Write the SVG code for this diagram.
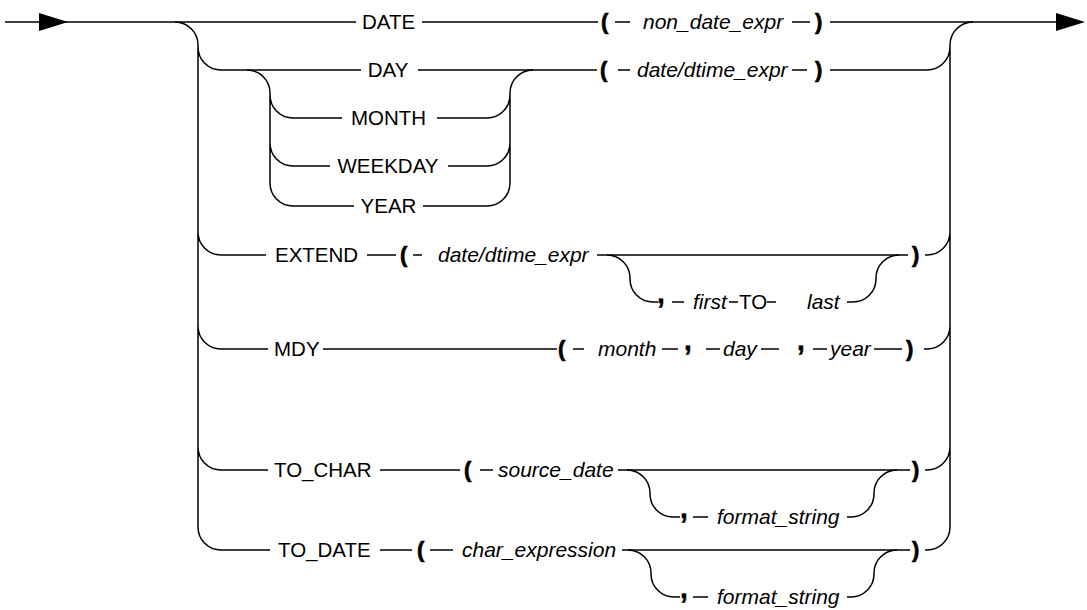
<svg xmlns="http://www.w3.org/2000/svg" width="1087" height="610" viewBox="0 0 1087 610">
  <style>
    .ln { fill: none; stroke: #000; stroke-width: 1.5; }
    .kw { font-family: "Liberation Sans", Arial, sans-serif; font-size: 20.5px; fill: #000; }
    .it { font-family: "Liberation Sans", Arial, sans-serif; font-size: 21px; font-style: italic; fill: #000; }
    .p  { font-family: "Liberation Sans", Arial, sans-serif; font-size: 22px; font-weight: bold; fill: #000; stroke: #000; stroke-width: 0.7; }
    .c  { font-family: "Liberation Sans", Arial, sans-serif; font-size: 28px; font-weight: bold; fill: #000; stroke: #000; stroke-width: 0.5; }
    .mid { text-anchor: middle; }
    .arrow { fill: #000; stroke: none; }
  </style>
  <rect width="1087" height="610" fill="#fff"/>

  <g id="connectors">
    <!-- main line across the top (DATE row) -->
    <path class="ln" d="M5 22H356 M422 22H598 M615 22H630 M792 22H810 M830 22H1062"/>
    <polygon class="arrow" points="39,13 68,22 39,31"/>
    <polygon class="arrow" points="1056,13 1085,22 1056,31"/>

    <!-- outer left rail -->
    <path class="ln" d="M175 22A23 23 0 0 1 198 45V527A23 23 0 0 0 221 550
      M198 47A23 23 0 0 0 221 70
      M198 232A23 23 0 0 0 221 255
      M198 326A23 23 0 0 0 221 349
      M198 447A23 23 0 0 0 221 470"/>
    <!-- outer right rail -->
    <path class="ln" d="M927 550A23 23 0 0 0 950 527V45A23 23 0 0 1 973 22
      M927 70A23 23 0 0 0 950 47
      M927 255A23 23 0 0 0 950 232
      M927 349A23 23 0 0 0 950 326
      M927 470A23 23 0 0 0 950 447"/>

    <!-- DAY row -->
    <path class="ln" d="M221 70H361 M418 70H597 M618 70H630 M792 70H807 M830 70H927"/>
    <!-- DAY / MONTH / WEEKDAY / YEAR choice -->
    <path class="ln" d="M247 70A23 23 0 0 1 270 93V183A23 23 0 0 0 293 206H354
      M423 206H487A23 23 0 0 0 510 183V93A23 23 0 0 1 533 70
      M270 95A23 23 0 0 0 293 118H342 M437 118H487A23 23 0 0 0 510 95
      M270 143A23 23 0 0 0 293 166H330 M448 166H487A23 23 0 0 0 510 143"/>

    <!-- EXTEND row -->
    <path class="ln" d="M221 255H266 M367 255H396 M413 255H422 M597 255H908 M925 255H927"/>
    <path class="ln" d="M607 255A23 23 0 0 1 630 278V279A23 23 0 0 0 653 302H658
      M672 302H684 M729 302H738 M767 302H776
      M847 302H853A23 23 0 0 0 876 279V278A23 23 0 0 1 899 255"/>

    <!-- MDY row -->
    <path class="ln" d="M221 349H268 M323 349H557 M573 349H584 M662 349H678 M706 349H720
      M761 349H779 M813 349H827 M874 349H902 M924 349H927"/>

    <!-- TO_CHAR row -->
    <path class="ln" d="M221 470H268 M380 470H460 M480 470H493 M618 470H910 M925 470H927"/>
    <path class="ln" d="M627 470A23 23 0 0 1 650 493V494A23 23 0 0 0 673 517H680
      M693 517H708
      M847 517H851A23 23 0 0 0 874 494V493A23 23 0 0 1 897 470"/>

    <!-- TO_DATE row -->
    <path class="ln" d="M221 550H270 M380 550H412 M430 550H453 M622 550H910 M925 550H927"/>
    <path class="ln" d="M628 550A23 23 0 0 1 651 573V574A23 23 0 0 0 674 597H680
      M693 597H708
      M847 597H851A23 23 0 0 0 874 574V573A23 23 0 0 1 897 550"/>
  </g>

  <!-- DATE ( non_date_expr ) -->
  <g id="kw-date"><text class="kw mid" x="388.5" y="29">DATE</text></g>
  <g id="date-open"><text class="p" x="601" y="29">(</text></g>
  <g id="non-date-expr"><text class="it" x="643" y="29">non_date_expr</text></g>
  <g id="date-close"><text class="p" x="815" y="29">)</text></g>

  <!-- DAY | MONTH | WEEKDAY | YEAR ( date/dtime_expr ) -->
  <g id="kw-day"><text class="kw mid" x="388" y="77">DAY</text></g>
  <g id="kw-month"><text class="kw mid" x="388.5" y="125">MONTH</text></g>
  <g id="kw-weekday"><text class="kw mid" x="388" y="173">WEEKDAY</text></g>
  <g id="kw-year"><text class="kw mid" x="388.5" y="213">YEAR</text></g>
  <g id="day-open"><text class="p" x="600" y="77">(</text></g>
  <g id="day-expr"><text class="it" x="637" y="77">date/dtime_expr</text></g>
  <g id="day-close"><text class="p" x="815" y="77">)</text></g>

  <!-- EXTEND ( date/dtime_expr [, first TO last] ) -->
  <g id="kw-extend"><text class="kw" x="275" y="262">EXTEND</text></g>
  <g id="extend-open"><text class="p" x="400" y="262">(</text></g>
  <g id="extend-expr"><text class="it" x="438" y="262">date/dtime_expr</text></g>
  <g id="extend-comma"><text class="c" x="657" y="303">,</text></g>
  <g id="extend-first"><text class="it" x="693" y="309">first</text></g>
  <g id="kw-to"><text class="kw" x="739" y="309">TO</text></g>
  <g id="extend-last"><text class="it" x="807" y="309">last</text></g>
  <g id="extend-close"><text class="p" x="912" y="262">)</text></g>

  <!-- MDY ( month , day , year ) -->
  <g id="kw-mdy"><text class="kw" x="274" y="356">MDY</text></g>
  <g id="mdy-open"><text class="p" x="558" y="356">(</text></g>
  <g id="mdy-month"><text class="it" x="598" y="356">month</text></g>
  <g id="mdy-comma1"><text class="c" x="684" y="350">,</text></g>
  <g id="mdy-day"><text class="it" x="723" y="356">day</text></g>
  <g id="mdy-comma2"><text class="c" x="797" y="350">,</text></g>
  <g id="mdy-year"><text class="it" x="830" y="356">year</text></g>
  <g id="mdy-close"><text class="p" x="906" y="356">)</text></g>

  <!-- TO_CHAR ( source_date [, format_string] ) -->
  <g id="kw-to-char"><text class="kw" x="274" y="477">TO_CHAR</text></g>
  <g id="to-char-open"><text class="p" x="464" y="477">(</text></g>
  <g id="to-char-source"><text class="it" x="498" y="477">source_date</text></g>
  <g id="to-char-comma"><text class="c" x="680" y="518">,</text></g>
  <g id="to-char-format"><text class="it" x="717" y="524">format_string</text></g>
  <g id="to-char-close"><text class="p" x="912" y="477">)</text></g>

  <!-- TO_DATE ( char_expression [, format_string] ) -->
  <g id="kw-to-date"><text class="kw" x="278" y="557">TO_DATE</text></g>
  <g id="to-date-open"><text class="p" x="417" y="557">(</text></g>
  <g id="to-date-expr"><text class="it" x="462" y="557">char_expression</text></g>
  <g id="to-date-comma"><text class="c" x="680" y="598">,</text></g>
  <g id="to-date-format"><text class="it" x="717" y="604">format_string</text></g>
  <g id="to-date-close"><text class="p" x="912" y="557">)</text></g>
</svg>
